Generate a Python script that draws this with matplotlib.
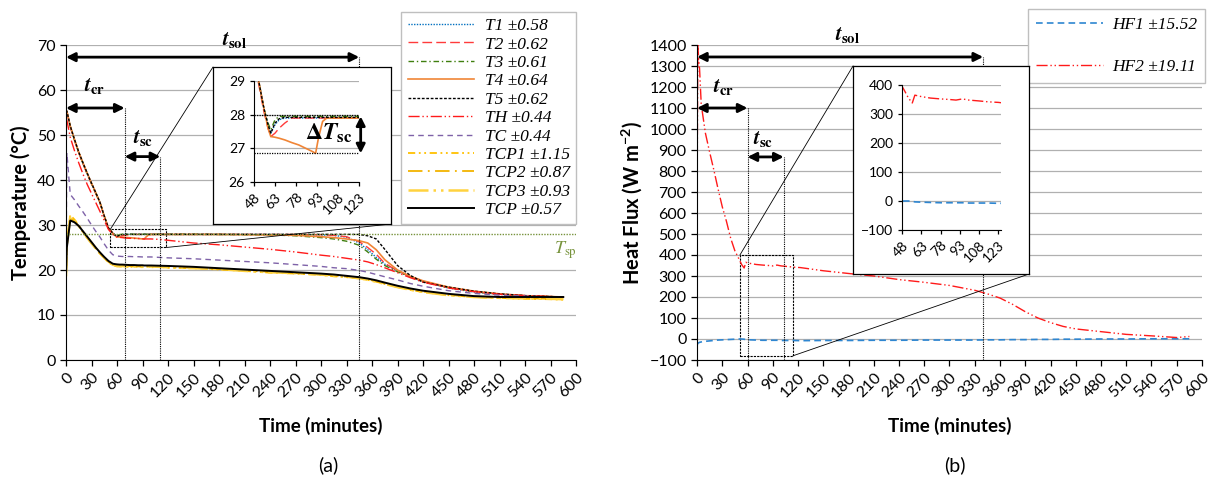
import matplotlib
matplotlib.use('Agg')
import matplotlib.pyplot as plt
import numpy as np
from matplotlib.patches import Rectangle, ConnectionPatch

plt.rcParams['font.family'] = ['Lato', 'DejaVu Sans']
plt.rcParams['mathtext.fontset'] = 'stix'
plt.rcParams['mathtext.default'] = 'regular'

# ---------------- data: panel (a), temperatures (degC) ----------------
t_a = [0, 1, 5, 10, 15, 20, 25,
       30, 35, 40, 45, 50, 55, 58,
       60, 63, 66, 70, 75, 80, 85,
       90, 92, 94, 97, 100, 110, 120,
       150, 180, 210, 240, 270, 300, 315,
       330, 345, 355, 365, 375, 390, 405,
       420, 450, 480, 510, 540, 570, 585]

T1 = [55.4, 55.2, 51.9, 48.9, 46.1, 43.7, 41.4,
      39.2, 37.1, 35.0, 32.0, 29.3, 28.2, 27.7,
      27.45, 27.7, 27.85, 27.9, 27.9, 27.9, 27.9,
      27.9, 27.9, 27.9, 27.9, 27.9, 27.9, 27.9,
      27.9, 27.9, 27.9, 27.9, 27.85, 27.8, 27.7,
      27.3, 26.0, 24.5, 22.8, 21.3, 19.8, 18.5,
      17.4, 16.0, 15.1, 14.6, 14.3, 14.1, 14.0]
T2 = [55.3, 55.1, 51.8, 48.8, 46.0, 43.6, 41.3,
      39.1, 37.0, 34.9, 31.9, 29.2, 28.1, 27.6,
      27.35, 27.45, 27.6, 27.75, 27.9, 27.9, 27.9,
      27.9, 27.9, 27.9, 27.9, 27.9, 27.9, 27.9,
      27.9, 27.9, 27.9, 27.9, 27.9, 27.85, 27.7,
      27.4, 26.3, 25.0, 23.5, 21.5, 19.8, 18.6,
      17.5, 16.1, 15.2, 14.6, 14.3, 14.1, 14.0]
T3 = [55.4, 55.2, 51.9, 48.9, 46.1, 43.7, 41.4,
      39.2, 37.1, 35.0, 32.0, 29.3, 28.2, 27.75,
      27.55, 27.85, 27.95, 27.95, 27.95, 27.95, 27.95,
      27.95, 27.95, 27.95, 27.95, 27.95, 27.95, 27.95,
      27.95, 27.9, 27.85, 27.8, 27.6, 27.2, 26.9,
      26.4, 25.5, 24.0, 22.4, 21.0, 19.6, 18.5,
      17.5, 16.1, 15.2, 14.6, 14.3, 14.1, 14.0]
T4 = [55.5, 55.3, 52.0, 49.0, 46.2, 43.8, 41.5,
      39.3, 37.2, 35.0, 32.0, 29.3, 28.2, 27.6,
      27.35, 27.33, 27.3, 27.25, 27.17, 27.1, 27.0,
      26.9, 26.85, 27.3, 27.8, 27.9, 27.9, 27.9,
      27.9, 27.9, 27.85, 27.8, 27.7, 27.4, 27.2,
      26.9, 26.5, 26.0, 24.5, 22.3, 20.0, 18.6,
      17.6, 16.2, 15.3, 14.7, 14.3, 14.1, 14.0]
T5 = [55.5, 55.3, 52.0, 49.0, 46.2, 43.8, 41.5,
      39.3, 37.2, 35.0, 32.0, 29.3, 28.2, 27.7,
      27.45, 27.75, 27.88, 27.92, 27.92, 27.92, 27.92,
      27.92, 27.92, 27.92, 27.92, 27.92, 27.92, 27.92,
      27.92, 27.92, 27.92, 27.92, 27.92, 27.92, 27.92,
      27.92, 27.9, 27.6, 26.9, 24.6, 21.0, 18.8,
      17.3, 16.2, 15.3, 14.7, 14.3, 14.1, 14.0]
TH = [53.5, 53.3, 49.5, 46.5, 43.8, 41.3, 39.0,
      37.0, 35.0, 33.0, 31.0, 29.0, 27.9, 27.5,
      27.3, 27.25, 27.2, 27.1, 27.05, 27.0, 27.0,
      26.95, 26.9, 26.9, 26.9, 26.9, 26.8, 26.6,
      26.0, 25.6, 25.1, 24.6, 24.0, 23.3, 23.0,
      22.6, 22.2, 21.8, 21.2, 20.5, 19.4, 18.3,
      17.3, 16.0, 15.2, 14.6, 14.3, 14.1, 14.0]
TC = [21.0, 46.0, 36.8, 35.6, 34.2, 32.9, 31.5,
      30.0, 28.6, 27.3, 25.8, 24.4, 23.4, 23.2,
      23.1, 23.05, 23.0, 23.0, 23.0, 22.95, 22.95,
      22.9, 22.9, 22.9, 22.9, 22.9, 22.8, 22.7,
      22.5, 22.2, 21.9, 21.6, 21.2, 20.8, 20.5,
      20.3, 19.9, 19.5, 19.0, 18.5, 17.8, 17.0,
      16.4, 15.4, 14.8, 14.4, 14.2, 14.0, 14.0]
TCP1 = [18.5, 26.0, 32.2, 31.2, 29.9, 28.5, 27.2,
        26.0, 24.8, 23.6, 22.6, 21.7, 21.1, 20.9,
        20.8, 20.9, 20.7, 20.9, 20.8, 20.6, 20.8,
        20.7, 20.6, 20.8, 20.7, 20.6, 20.7, 20.5,
        20.4, 20.1, 19.8, 19.4, 19.2, 18.9, 18.6,
        18.4, 18.1, 17.8, 17.4, 16.9, 16.2, 15.6,
        15.1, 14.4, 14.0, 13.8, 13.6, 13.5, 13.4]
TCP2 = [18.8, 25.5, 31.4, 30.9, 29.7, 28.4, 27.1,
        25.9, 24.8, 23.7, 22.7, 21.8, 21.2, 21.0,
        21.0, 20.9, 21.0, 20.9, 20.9, 20.8, 20.9,
        20.8, 20.8, 20.8, 20.9, 20.8, 20.8, 20.6,
        20.5, 20.2, 19.9, 19.6, 19.3, 19.0, 18.8,
        18.5, 18.2, 17.9, 17.5, 17.0, 16.3, 15.7,
        15.2, 14.5, 14.0, 13.8, 13.7, 13.6, 13.6]
TCP3 = [18.6, 25.8, 31.8, 31.0, 29.8, 28.5, 27.2,
        26.0, 24.8, 23.7, 22.7, 21.8, 21.2, 21.0,
        20.9, 20.8, 20.9, 20.8, 20.7, 20.8, 20.7,
        20.7, 20.8, 20.7, 20.7, 20.8, 20.7, 20.6,
        20.4, 20.2, 19.8, 19.5, 19.3, 19.0, 18.7,
        18.5, 18.2, 17.8, 17.4, 16.9, 16.2, 15.6,
        15.1, 14.4, 14.0, 13.8, 13.7, 13.6, 13.5]
TCP = [19.0, 25.0, 31.0, 30.6, 29.8, 28.6, 27.4,
       26.2, 25.0, 23.9, 22.9, 22.0, 21.4, 21.3,
       21.25, 21.2, 21.2, 21.15, 21.1, 21.1, 21.05,
       21.05, 21.0, 21.0, 21.0, 21.0, 20.95, 20.9,
       20.7, 20.4, 20.1, 19.8, 19.5, 19.2, 19.0,
       18.7, 18.4, 18.1, 17.7, 17.2, 16.5, 15.9,
       15.4, 14.7, 14.2, 14.0, 14.0, 14.0, 14.0]
T_setpoint = 28.0

labels_a = ['T1 ±0.58', 'T2 ±0.62', 'T3 ±0.61', 'T4 ±0.64', 'T5 ±0.62', 'TH ±0.44',
            'TC ±0.44', 'TCP1 ±1.15', 'TCP2 ±0.87', 'TCP3 ±0.93', 'TCP ±0.57']

# ---------------- data: panel (b), heat flux (W m-2) ----------------
t_b = [0, 0.5, 1, 2, 3, 5, 6,
       10, 15, 20, 25, 30, 35, 40,
       45, 50, 53, 56, 58, 63, 70,
       78, 85, 90, 95, 100, 108, 115,
       123, 150, 180, 210, 240, 270, 300,
       330, 345, 360, 375, 390, 405, 420,
       435, 450, 480, 510, 540, 570, 585]
HF1 = [-30, -25, -20, -18, -16, -14, -13,
       -11, -9, -7, -5, -4, -3, -2,
       -1, 0, 0, -1, -3, -4, -5,
       -6, -6, -6, -6, -7, -7, -7,
       -8, -7, -7, -6, -6, -5, -5,
       -5, -4, -4, -3, -3, -2, -2,
       -1, -1, 0, 0, 1, 1, 1]
HF2 = [550, 1000, 1400, 1330, 1290, 1120, 1090,
       980, 890, 805, 715, 630, 560, 480,
       420, 380, 355, 338, 365, 360, 355,
       352, 350, 348, 352, 348, 345, 342,
       340, 325, 312, 300, 283, 270, 255,
       232, 215, 195, 165, 130, 100, 78,
       60, 48, 35, 22, 15, 7, 12]
labels_b = ['HF1 ±15.52', 'HF2 ±19.11']

# ---------------- styles ----------------
styles_a = [
    dict(color='#0070C0', ls=(0, (1, 1)), lw=1.0),
    dict(color='#FF3B3B', ls=(0, (7, 3)), lw=1.0),
    dict(color='#3F7F0F', ls=(0, (4, 2, 1, 2)), lw=1.0),
    dict(color='#F08536', ls='-', lw=1.2),
    dict(color='black', ls=(0, (2, 1.2)), lw=1.0),
    dict(color='#FF1A1A', ls=(0, (8, 2, 1, 2, 1, 2)), lw=1.0),
    dict(color='#7E62A8', ls=(0, (4, 3)), lw=1.0),
    dict(color='#FFC000', ls=(0, (4, 2, 1, 2, 1, 2)), lw=1.3),
    dict(color='#F2B300', ls=(0, (8, 3, 1, 3)), lw=1.3),
    dict(color='#FFD23F', ls=(0, (8, 2, 1, 2, 1, 2)), lw=1.8),
    dict(color='black', ls='-', lw=1.4),
]
series_a = [T1, T2, T3, T4, T5, TH, TC, TCP1, TCP2, TCP3, TCP]
styles_b = [dict(color='#2E86D1', ls=(0, (4, 2.5)), lw=1.2),
            dict(color='#FF1A1A', ls=(0, (8, 2, 1, 2, 1, 2)), lw=1.0)]
series_b = [HF1, HF2]

grid_c = '#b0b0b0'
dot = (0, (1, 1))
arrow_kw = dict(arrowstyle='<|-|>', color='black', lw=2.0, mutation_scale=13,
                shrinkA=0, shrinkB=0)
bold_t = dict(fontsize=15, color='black', ha='center', va='center')
leg_font = {'family': 'Liberation Serif', 'style': 'italic', 'size': 12.5}

W, H = 1211, 486
fig = plt.figure(figsize=(W / 100, H / 100), dpi=100)


def box(x0, y0, x1, y1):
    # pixel box of the reference -> figure fraction
    return [x0 / W, 1 - y1 / H, (x1 - x0) / W, (y1 - y0) / H]


def style_main(ax, ylim, step):
    ax.set_xlim(0, 600)
    ax.set_xticks(np.arange(0, 601, 30))
    ax.set_ylim(*ylim)
    ax.set_yticks(np.arange(ylim[0], ylim[1] + 1, step))
    ax.grid(axis='y', color=grid_c, lw=0.9)
    ax.set_axisbelow(True)
    for s in ['top', 'right']:
        ax.spines[s].set_visible(False)
    ax.tick_params(axis='both', labelsize=11.5, length=4, width=0.9)
    for lab in ax.get_xticklabels():
        lab.set_rotation(45)
        lab.set_ha('right')
        lab.set_rotation_mode('anchor')
    ax.set_xlabel('Time (minutes)', fontweight='bold', fontsize=13.5, labelpad=12)


def style_inset(ax, ylim, step, xmax):
    ax.set_xlim(48, xmax)
    ax.set_xticks(np.arange(48, 124, 15))
    ax.set_ylim(*ylim)
    ax.set_yticks(np.arange(ylim[0], ylim[1] + 1, step))
    ax.grid(axis='y', color=grid_c, lw=0.9)
    ax.set_axisbelow(True)
    for s in ['top', 'right']:
        ax.spines[s].set_visible(False)
    ax.tick_params(axis='both', labelsize=10, length=3, width=0.9)
    for lab in ax.get_xticklabels():
        lab.set_rotation(45)
        lab.set_ha('right')
        lab.set_rotation_mode('anchor')


def frame(rect):
    fr = fig.add_axes(rect, zorder=3)
    fr.set_xticks([])
    fr.set_yticks([])
    for s in fr.spines.values():
        s.set_linestyle(dot)
        s.set_linewidth(0.9)
    return fr


# ================= panel (a) =================
ax1 = fig.add_axes(box(66, 45, 576, 360))
for y, st, lab in zip(series_a, styles_a, labels_a):
    ax1.plot(t_a, y, label=lab, **st)
ax1.axhline(T_setpoint, color='#77933C', ls=dot, lw=1.0)
ax1.text(588, 24.4, r'$\mathit{T}_{\mathrm{sp}}$', color='#77933C', fontsize=13,
         ha='center', va='center')
style_main(ax1, (0, 70), 10)
ax1.set_ylabel('Temperature (°C)', fontweight='bold', fontsize=14.5, labelpad=4)

# time markers (a)
tcr_a, tsc_a, tsol_a = 69, 111, 345
ax1.annotate('', xy=(0, 56), xytext=(tcr_a, 56), arrowprops=arrow_kw)
ax1.annotate('', xy=(tcr_a, 45.2), xytext=(tsc_a, 45.2), arrowprops=arrow_kw)
ax1.annotate('', xy=(0, 67.3), xytext=(tsol_a, 67.3), arrowprops=arrow_kw)
ax1.plot([tcr_a, tcr_a], [0, 56], color='black', ls=dot, lw=0.8)
ax1.plot([tsc_a, tsc_a], [0, 45.2], color='black', ls=dot, lw=0.8)
ax1.plot([tsol_a, tsol_a], [0, 67.3], color='black', ls=dot, lw=0.8)
ax1.text(34, 60.6, r'$\mathbfit{t}_{\mathbf{cr}}$', **bold_t)
ax1.text(91, 49.2, r'$\mathbfit{t}_{\mathbf{sc}}$', **bold_t)
ax1.text(198, 71.0, r'$\mathbfit{t}_{\mathbf{sol}}$', **bold_t)
ax1.add_patch(Rectangle((52, 25), 66, 4, fill=False, ls=(0, (2, 1)), lw=0.8, color='black'))

leg1 = ax1.legend(loc='upper right', bbox_to_anchor=(1.0, 1.105), borderaxespad=0,
                  prop=leg_font, handlelength=3.85, labelspacing=0.13, fancybox=False,
                  framealpha=1, edgecolor='#bfbfbf', borderpad=0.35, handletextpad=0.6)
leg1.get_frame().set_linewidth(1.0)

# zoom inset (a)
fr1 = frame(box(213, 67, 391, 224))
in1 = fig.add_axes(box(254, 81, 359, 182), zorder=4)
for y, st in zip(series_a[:5], styles_a[:5]):
    in1.plot(t_a, y, **st)
style_inset(in1, (26, 29), 1, 123)
dT_top, dT_bot = 27.95, 26.85
in1.axhline(28.0, color='black', ls=dot, lw=0.9)
in1.axhline(dT_bot, color='black', ls=dot, lw=0.9)
in1.annotate('', xy=(124.2, dT_top), xytext=(124.2, dT_bot), arrowprops=arrow_kw,
             annotation_clip=False)
in1.text(101.5, 27.45, r'$\mathbf{\Delta}\mathbfit{T}_{\mathbf{sc}}$', fontsize=17,
         ha='center', va='center')
for xyA, xyB in [((52, 29), (0, 1)), ((118, 25), (1, 0))]:
    fig.add_artist(ConnectionPatch(xyA=xyA, coordsA=ax1.transData, xyB=xyB,
                                   coordsB=fr1.transAxes, color='black', lw=0.6, zorder=2))

# ================= panel (b) =================
ax2 = fig.add_axes(box(697, 45, 1202, 360))
for y, st, lab in zip(series_b, styles_b, labels_b):
    ax2.plot(t_b, y, label=lab, **st)
style_main(ax2, (-100, 1400), 100)
ax2.set_ylabel('Heat Flux (W m$^{-2}$)', fontweight='bold', fontsize=14.5, labelpad=4)

tcr_b, tsc_b, tsol_b = 60, 103, 340
ax2.annotate('', xy=(0, 1100), xytext=(tcr_b, 1100), arrowprops=arrow_kw)
ax2.annotate('', xy=(tcr_b, 867), xytext=(tsc_b, 867), arrowprops=arrow_kw)
ax2.annotate('', xy=(0, 1343), xytext=(tsol_b, 1343), arrowprops=arrow_kw)
ax2.plot([tcr_b, tcr_b], [-100, 1100], color='black', ls=dot, lw=0.8)
ax2.plot([tsc_b, tsc_b], [-100, 867], color='black', ls=dot, lw=0.8)
ax2.plot([tsol_b, tsol_b], [-100, 1343], color='black', ls=dot, lw=0.8)
ax2.text(31, 1195, r'$\mathbfit{t}_{\mathbf{cr}}$', **bold_t)
ax2.text(78, 948, r'$\mathbfit{t}_{\mathbf{sc}}$', **bold_t)
ax2.text(179, 1443, r'$\mathbfit{t}_{\mathbf{sol}}$', **bold_t)
ax2.add_patch(Rectangle((51, -80), 63, 480, fill=False, ls=(0, (2, 1)), lw=0.8, color='black'))

leg2 = ax2.legend(loc='upper right', bbox_to_anchor=(1.006, 1.114), borderaxespad=0,
                  prop=leg_font, handlelength=3.9, labelspacing=1.5, fancybox=False,
                  framealpha=1, edgecolor='#bfbfbf', borderpad=0.45, handletextpad=0.5)
leg2.get_frame().set_linewidth(1.0)

fr2 = frame(box(853, 66, 1029, 274))
in2 = fig.add_axes(box(902, 85, 1001, 230), zorder=4)
for y, st in zip(series_b, styles_b):
    in2.plot(t_b, y, **st)
style_inset(in2, (-100, 400), 100, 125)
for xyA, xyB in [((51, 400), (0, 1)), ((114, -80), (1, 0))]:
    fig.add_artist(ConnectionPatch(xyA=xyA, coordsA=ax2.transData, xyB=xyB,
                                   coordsB=fr2.transAxes, color='black', lw=0.6, zorder=2))

fig.text(328 / W, 1 - 465 / H, '(a)', ha='center', va='center', fontsize=14)
fig.text(955 / W, 1 - 465 / H, '(b)', ha='center', va='center', fontsize=14)

fig.savefig('out.png', dpi=100)
